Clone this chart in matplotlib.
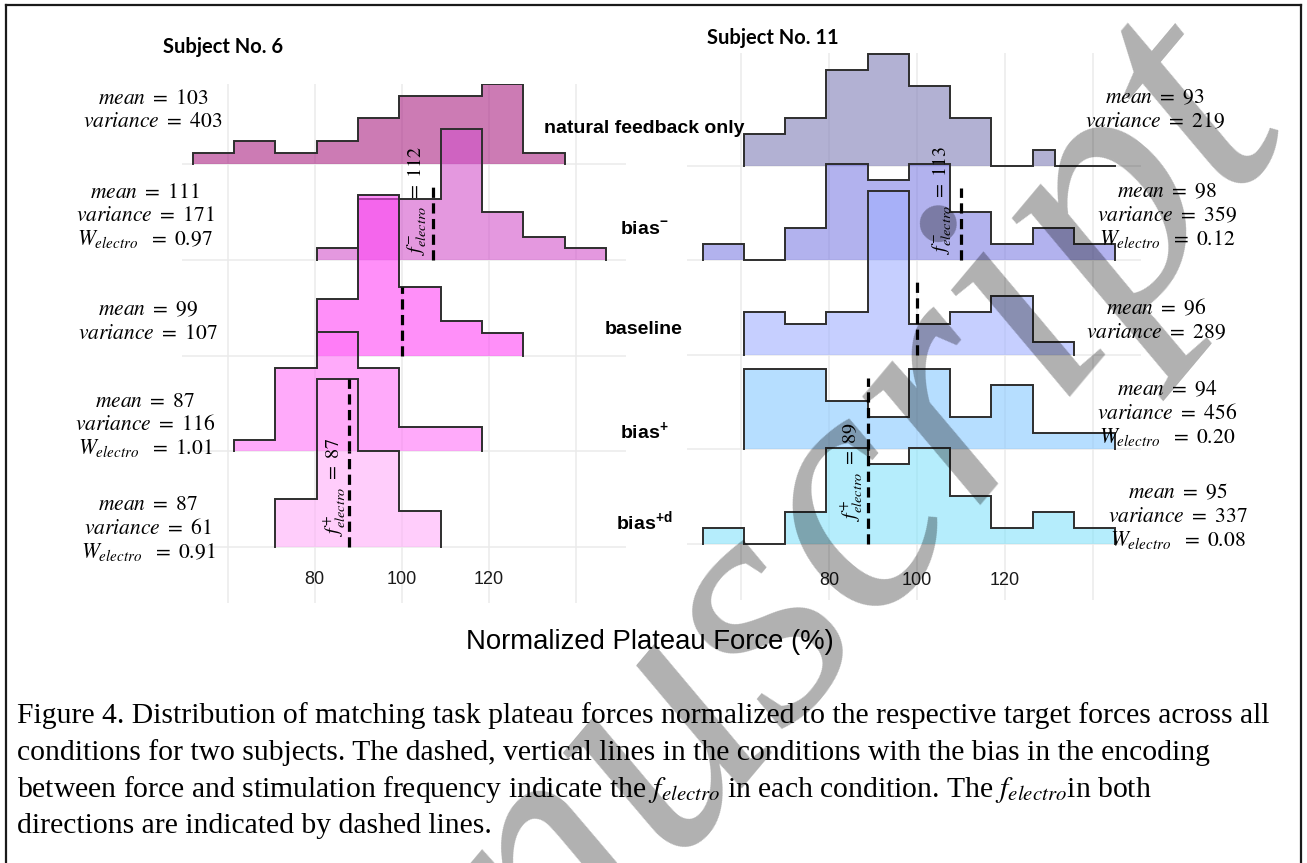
import numpy as np
import matplotlib
matplotlib.use("Agg")
import matplotlib.pyplot as plt

W, H = 1307, 863

plt.rcParams["font.family"] = ["Liberation Sans", "DejaVu Sans"]
plt.rcParams["mathtext.fontset"] = "custom"
plt.rcParams["mathtext.rm"] = "Liberation Sans"
plt.rcParams["mathtext.bf"] = "Liberation Sans:bold"

conditions = ["natural feedback only", r"bias$^{\mathbf{-}}$", "baseline",
              r"bias$^{\mathbf{+}}$", r"bias$^{\mathbf{+d}}$"]

# Subject No. 6 -- binned plateau forces, one list of bin heights per condition
s6_binwidth = 9.5
s6_start = [52.0, 80.5, 80.5, 61.5, 71.0]
s6_counts = [
    [1, 2, 1, 2, 4, 6, 6, 7, 1],
    [1, 5.3, 5.3, 11.5, 4.2, 2, 1],
    [5, 14.1, 6, 3, 2],
    [1, 7.3, 10.5, 7.3, 2.1, 2.1],
    [4.2, 14.7, 8.4, 3.2],
]
s6_mean = [103, 111, 99, 87, 87]
s6_var = [403, 171, 107, 116, 61]
s6_w = [None, "0.97", None, "1.01", "0.91"]
s6_fe_x = [None, 107.2, 100.0, 88.0, 88.0]      # dashed f_electro lines
s6_fe_h = [None, 0.76, 0.72, 0.75, 1.0]

# Subject No. 11
s11_binwidth = 9.37
s11_start = [60.67, 51.3, 60.67, 60.67, 51.3]
s11_natural_edges = [60.67, 70.04, 79.41, 88.78, 98.15, 107.52, 116.89,
                     126.26, 131.3, 145.0]
s11_counts = [
    [2, 3, 6, 7, 5, 3, 0, 1, 0],
    [1, 0, 2, 6, 5, 6, 3, 1, 2, 1],
    [2.7, 1.9, 2.7, 10.25, 1.9, 2.7, 3.7, 0.8],
    [5, 5, 3, 2, 5, 2, 4, 1, 1],
    [1, 0, 2, 6, 5, 6, 3, 1, 2, 1],
]
s11_mean = [93, 98, 96, 94, 95]
s11_var = [219, 359, 289, 456, 337]
s11_w = [None, "0.12", None, "0.20", "0.08"]
s11_fe_x = [None, 110.0, 100.0, 88.8, 88.8]
s11_fe_h = [None, 0.76, 0.78, 0.75, 1.0]

s6_colors = ["#aa2383", "#d253cb", "#ff45f6", "#ff72f7", "#ffadf9"]
s11_colors = ["#807eb7", "#7f7fe3", "#a0b0ff", "#86c8ff", "#84e2fa"]
fill_alpha = 0.6

ticks = [60, 80, 100, 120, 140]
tick_labels = ["", "80", "100", "120", ""]


def px_rect(x0, y0, x1, y1):
    return [x0 / W, 1 - y1 / H, (x1 - x0) / W, (y1 - y0) / H]


def fig_xy(x, y):
    return x / W, 1 - y / H


def draw_ridge(ax, base, edges, counts, scale, color, z):
    xs = np.repeat(edges, 2)
    ys = base + scale * np.concatenate([[0], np.repeat(counts, 2), [0]])
    ax.fill_between(xs, base, ys, color=color, alpha=fill_alpha, lw=0, zorder=z)
    ax.plot(xs, ys, color="#2e2e2e", lw=1.4, zorder=z + 0.1,
            solid_joinstyle="miter")


def make_panel(rect, xlim, ylim, scale, starts, binwidth, counts, colors,
               fe_x, fe_h, pad, natural_edges=None):
    ax = fig.add_axes(rect)
    ax.set_xlim(*xlim)
    ax.set_ylim(*ylim)
    for s in ax.spines.values():
        s.set_visible(False)
    ax.set_xticks(ticks, tick_labels)
    ax.set_yticks(range(5), [])
    ax.grid(True, color="#ebebeb", lw=1.1, zorder=0)
    ax.tick_params(length=0, labelsize=13, pad=pad, labelcolor="#1a1a1a")
    for i in range(5):
        base = 4 - i
        if i == 0 and natural_edges is not None:
            edges = np.array(natural_edges)
        else:
            edges = starts[i] + binwidth * np.arange(len(counts[i]) + 1)
        draw_ridge(ax, base, edges, counts[i], scale, colors[i], 2 + i)
        if fe_x[i] is not None:
            ax.plot([fe_x[i], fe_x[i]], [base, base + fe_h[i]], color="black",
                    lw=2.3, ls=(0, (3.2, 1.7)), zorder=10)
    return ax


fig = plt.figure(figsize=(W / 100, H / 100), dpi=100)

ax6 = make_panel(px_rect(182, 84, 626, 603), (49.5, 151.6), (-0.585, 4.836),
                 11.4 / 95.75, s6_start, s6_binwidth, s6_counts, s6_colors,
                 s6_fe_x, s6_fe_h, pad=-22.7)
ax11 = make_panel(px_rect(687, 53, 1141, 600), (47.7, 150.9), (-0.592, 5.191),
                  16 / 94.6, s11_start, s11_binwidth, s11_counts, s11_colors,
                  s11_fe_x, s11_fe_h, pad=-20.5, natural_edges=s11_natural_edges)

# f_electro annotations beside the dashed lines
math_kw = dict(math_fontfamily="stix", fontsize=14.5, rotation=90,
               ha="center", va="center", zorder=12)
ax6.text(103.5, 3.62, r"$f_{electro}^{-}\ =\ 112$", **math_kw)
ax6.text(84.7, 0.63, r"$f_{electro}^{+}\ =\ 87$", **math_kw)
ax11.text(105.7, 3.64, r"$f_{electro}^{-}\ =\ 113$", **math_kw)
ax11.text(85.2, 0.77, r"$f_{electro}^{+}\ =\ 89$", **math_kw)

# summary statistics beside each ridge
s6_stat_x = [153, 145, 148, 145, 148]
s6_stat_y = [98, 192, 310, 401, 505]
s11_stat_x = [1155, 1167, 1156, 1167, 1178]
s11_stat_y = [98, 192, 309, 390, 493]


def stat_block(x, y, mean, var, w):
    lines = [rf"$mean\ =\ {mean}$", rf"$variance\ =\ {var}$"]
    if w is not None:
        lines.append(rf"$W_{{electro}}\ \ =\ {w}$")
    for k, s in enumerate(lines):
        fig.text(*fig_xy(x, y + 23.5 * k), s, math_fontfamily="stix",
                 fontsize=15.5, ha="center", va="center")


for i in range(5):
    stat_block(s6_stat_x[i], s6_stat_y[i], s6_mean[i], s6_var[i], s6_w[i])
    stat_block(s11_stat_x[i], s11_stat_y[i], s11_mean[i], s11_var[i], s11_w[i])

# condition names between the panels
cond_y = [128, 230, 330, 432, 522]
for name, y in zip(conditions, cond_y):
    fig.text(*fig_xy(644, y), name, fontsize=14, fontweight="bold",
             ha="center", va="center")

fig.text(*fig_xy(223, 47), "Subject No. 6", family="Lato", fontweight="bold",
         fontsize=14.5, ha="center", va="center")
fig.text(*fig_xy(773, 38), "Subject No. 11", family="Lato", fontweight="bold",
         fontsize=14.5, ha="center", va="center")

fig.text(*fig_xy(650, 642), "Normalized Plateau Force (%)", fontsize=19.8,
         ha="center", va="center")

caption = [
    "Figure 4. Distribution of matching task plateau forces normalized to the "
    "respective target forces across all",
    "conditions for two subjects. The dashed, vertical lines in the conditions "
    "with the bias in the encoding",
    r"between force and stimulation frequency indicate the $f_{electro}$ in "
    r"each condition. The $f_{electro}$in both",
    "directions are indicated by dashed lines.",
]
for k, line in enumerate(caption):
    fig.text(*fig_xy(17, 716 + 36.7 * k), line, family="Liberation Serif",
             math_fontfamily="stix", fontsize=21.3, ha="left", va="center")

# page frame
frame_kw = dict(color="#1a1a1a", lw=1.6, transform=fig.transFigure)
fig.add_artist(plt.Line2D([6 / W, 6 / W], [0, 1 - 5 / H], **frame_kw))
fig.add_artist(plt.Line2D([1301 / W, 1301 / W], [0, 1 - 5 / H], **frame_kw))
fig.add_artist(plt.Line2D([6 / W, 1301 / W], [1 - 5 / H, 1 - 5 / H], **frame_kw))

# watermark
fig.text(*fig_xy(1296, 134), "Manuscript", family="Liberation Serif",
         style="italic", fontsize=250, color=(0, 0, 0, 0.31), rotation=50,
         rotation_mode="anchor", ha="right", va="baseline", zorder=20)

fig.savefig("out.png", dpi=100)
